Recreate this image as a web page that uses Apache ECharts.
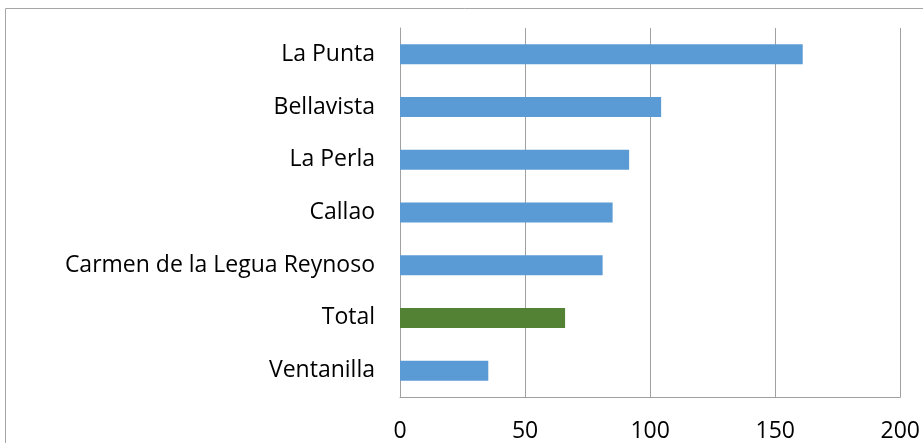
<!DOCTYPE html>
<html>
<head>
<meta charset="utf-8">
<script src="https://cdn.jsdelivr.net/npm/echarts@6/dist/echarts.min.js"></script>
<style>html,body{margin:0;padding:0;background:#fff}#c{width:923px;height:443px}</style>
</head>
<body>
<div id="c"></div>
<script>
const categories = ["Ventanilla", "Total", "Carmen de la Legua Reynoso", "Callao", "La Perla", "Bellavista", "La Punta"];
const values = [35.3, 66, 81, 85, 91.6, 104.4, 161];
const xTicks = [0, 50, 100, 150, 200];
const highlight = "Total";

const chart = echarts.init(document.getElementById('c'), null, {renderer: 'canvas'});
chart.setOption({
  animation: false,
  graphic: [{
    type: 'rect', shape: {x: 5.5, y: 8.5, width: 930, height: 450},
    style: {fill: 'none', stroke: '#A6A6A6', lineWidth: 1}, silent: true, z: 0
  }],
  grid: {left: 400, right: 22, top: 28, bottom: 46, containLabel: false},
  xAxis: {
    type: 'value', min: xTicks[0], max: xTicks[xTicks.length - 1], interval: 50,
    axisLine: {show: true, lineStyle: {color: '#A0A0A0', width: 1}},
    axisTick: {show: false},
    axisLabel: {color: '#000', fontFamily: 'Open Sans', fontSize: 23, margin: 23},
    splitLine: {show: true, lineStyle: {color: '#A0A0A0', width: 1}}
  },
  yAxis: {
    type: 'category', data: categories,
    axisLine: {show: true, lineStyle: {color: '#A0A0A0', width: 1}},
    axisTick: {show: false},
    axisLabel: {color: '#000', fontFamily: 'Open Sans', fontSize: 23, margin: 25}
  },
  series: [{
    type: 'bar',
    data: values.map((v, i) => ({value: v, itemStyle: {color: categories[i] === highlight ? '#548235' : '#5B9BD5'}})),
    barWidth: '38%'
  }]
});
</script>
</body>
</html>
